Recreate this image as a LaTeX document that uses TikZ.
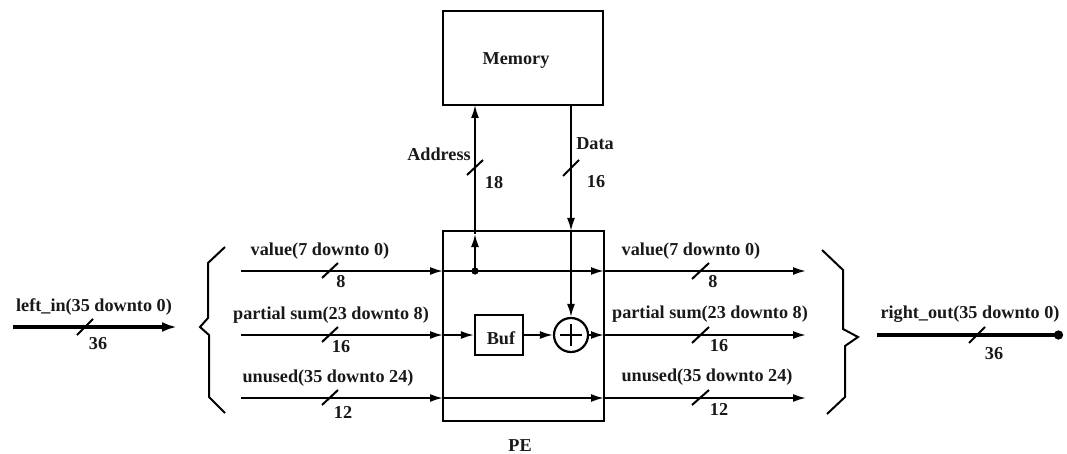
\documentclass[tikz,border=0pt]{standalone}
\usepackage{fontspec}
\setmainfont{Liberation Serif}
\usetikzlibrary{arrows.meta}
\begin{document}
\begin{tikzpicture}[x=1pt,y=-1pt,
  >={Latex[length=13pt,width=8pt]},
  wire/.style={draw=black,line width=1.9pt},
  bus/.style={draw=black,line width=3.6pt},
  block/.style={draw=black,line width=2.2pt,inner sep=0pt,minimum width=#1},
  tick/.style={draw=black,line width=2pt},
  brace/.style={draw=black,line width=2pt,line join=miter},
  lab/.style={font=\fontsize{18.2}{20}\selectfont\bfseries,inner sep=0pt,text=black!90}]
\useasboundingbox (0,0) rectangle (1067,454);
% blocks
\node[block=160pt,minimum height=94pt] (mem) at (523,58) {};
\node[block=161pt,minimum height=190pt] (pe) at (523.5,326) {};
\node[block=48pt,minimum height=40pt] (buf) at (499,335) {};
\node[draw=black,line width=2.2pt,circle,minimum size=34pt,inner sep=0pt] (add) at (571,335) {};
\draw[line width=1.4pt] ([xshift=-11pt]add.center) -- ([xshift=11pt]add.center);
\draw[line width=1.4pt] ([yshift=-11pt]add.center) -- ([yshift=11pt]add.center);
% anchors
\coordinate (vl) at (241,271); \coordinate (vpl) at (443,271); \coordinate (vj) at (475,271);
\coordinate (vpr) at (604,271); \coordinate (vr) at (806,271);
\coordinate (pl) at (241,335); \coordinate (ppl) at (443,335); \coordinate (ppr) at (604,335); \coordinate (pr) at (806,335);
\coordinate (ul) at (241,398); \coordinate (upl) at (443,398); \coordinate (upr) at (604,398); \coordinate (ur) at (806,398);
\coordinate (in0) at (13,327); \coordinate (in1) at (177,327);
\coordinate (out0) at (877,335); \coordinate (out1) at (1063,335);
\coordinate (apt) at (475,234); \coordinate (amem) at (475,105);
\coordinate (dpt) at (571,231); \coordinate (dmem) at (571,105);
% wires
\draw[wire,->] (vl) -- (vpl);
\draw[wire,->] (vpl) -- (vpr);
\draw[wire,->] (vpr) -- (vr);
\draw[wire,->] (pl) -- (ppl);
\draw[wire,->] (ppl) -- (buf.west);
\draw[wire,->] (buf.east) -- (add.west);
\draw[wire,->] (add.east) -- (ppr);
\draw[wire,->] (ppr) -- (pr);
\draw[wire,->] (ul) -- (upl);
\draw[wire,->] (upl) -- (upr);
\draw[wire,->] (upr) -- (ur);
\draw[wire,->] (vj) -- (apt);
\draw[wire,->] (apt) -- (amem);
\draw[wire,->] (dmem) -- (dpt);
\draw[wire,->] (dpt) -- (add.north);
\fill (vj) circle (3.6pt);
\draw[bus,-{Latex[length=15pt,width=10pt]}] (in0) -- (in1);
\draw[bus,-{Circle[length=9pt]}] (out0) -- (out1);
% ticks
\draw[tick] (77,335) -- (93,319);
\draw[tick] (322,278) -- (338,263);
\draw[tick] (322,342) -- (338,327);
\draw[tick] (322,405) -- (338,390);
\draw[tick] (692,279) -- (709,263);
\draw[tick] (692,343) -- (709,327);
\draw[tick] (692,405) -- (709,390);
\draw[tick] (969,343) -- (985,327);
\draw[tick] (467,175) -- (483,160);
\draw[tick] (563,176) -- (579,160);
% braces
\draw[brace] (225,247) -- (208,263) -- (208,318) -- (200,327) -- (209,335) -- (209,397) -- (225,413);
\draw[brace] (822,250) -- (843,270) -- (843,329) -- (858,337) -- (845,346) -- (845,397) -- (827,414);
% labels
\node[lab] (tmem) at (516,61) {Memory};
\node[lab] (tbuf) at (501,338) {Buf};
\node[lab] (tpe) at (520,446) {PE};
\node[lab] (taddr) at (439,154) {Address};
\node[lab] (t18) at (494,183) {18};
\node[lab] (tdata) at (595,144) {Data};
\node[lab] (t16d) at (596,182) {16};
\node[lab] (tin) at (94,307) {left\_in(35 downto 0)};
\node[lab] (t36a) at (98,344) {36};
\node[lab] (tvl) at (320,251) {value(7 downto 0)};
\node[lab] (t8l) at (341,282) {8};
\node[lab] (tpl) at (331,315) {partial sum(23 downto 8)};
\node[lab] (t16l) at (341,347) {16};
\node[lab] (tul) at (328,378) {unused(35 downto 24)};
\node[lab] (t12l) at (343,412) {12};
\node[lab] (tvr) at (691,251) {value(7 downto 0)};
\node[lab] (t8r) at (713,282) {8};
\node[lab] (tpr) at (710,314) {partial sum(23 downto 8)};
\node[lab] (t16r) at (719,346) {16};
\node[lab] (tur) at (707,377) {unused(35 downto 24)};
\node[lab] (t12r) at (719,409) {12};
\node[lab] (tout) at (970,314) {right\_out(35 downto 0)};
\node[lab] (t36b) at (994,354) {36};
\end{tikzpicture}
\end{document}
